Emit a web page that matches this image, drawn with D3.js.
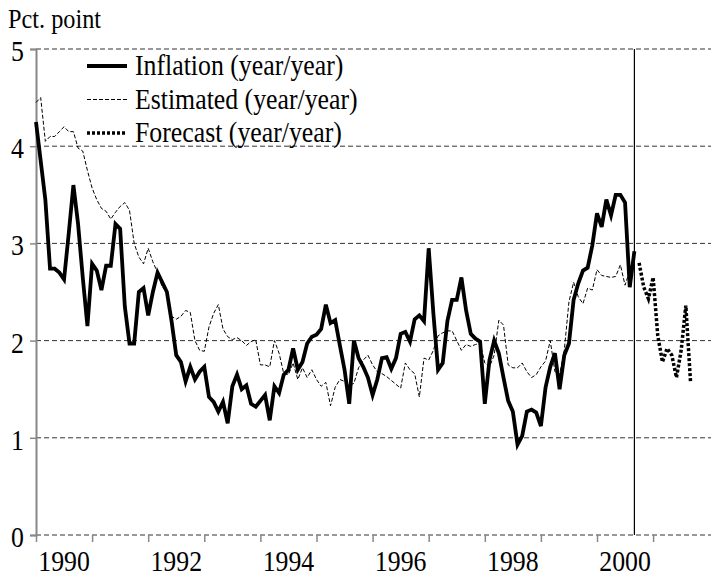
<!DOCTYPE html>
<html>
<head>
<meta charset="utf-8">
<script src="https://cdn.jsdelivr.net/npm/d3@7"></script>
<style>
  html, body { margin: 0; padding: 0; background: #fff; }
  svg { display: block; }
  svg text { font-family: "Liberation Serif", Tinos, "Noto Serif", "DejaVu Serif", FreeSerif, serif; }
</style>
</head>
<body>
<svg id="chart" width="711" height="576"></svg>
<script>
// ---- data (monthly, starting January 1990) ----
const startYear = 1990;
const inflation = [
  4.25, 3.85, 3.45, 2.74, 2.74, 2.70, 2.63, 3.10, 3.60, 3.20, 2.65, 2.15,
  2.79, 2.72, 2.52, 2.77, 2.77, 3.20, 3.15, 2.35, 1.97, 1.97, 2.50, 2.54,
  2.26, 2.50, 2.70, 2.60, 2.50, 2.20, 1.85, 1.78, 1.58, 1.73, 1.60, 1.68,
  1.73, 1.42, 1.37, 1.27, 1.37, 1.15, 1.53, 1.65, 1.50, 1.54, 1.35, 1.32,
  1.38, 1.44, 1.18, 1.53, 1.46, 1.65, 1.70, 1.92, 1.70, 1.78, 1.97, 2.04,
  2.06, 2.12, 2.37, 2.18, 2.21, 1.95, 1.70, 1.35, 2.00, 1.82, 1.73, 1.62,
  1.44, 1.60, 1.82, 1.83, 1.71, 1.82, 2.07, 2.09, 1.99, 2.22, 2.26, 2.20,
  2.95, 2.28, 1.70, 1.77, 2.20, 2.42, 2.42, 2.65, 2.31, 2.07, 2.02, 1.99,
  1.35, 1.80, 2.00, 1.87, 1.62, 1.38, 1.27, 0.93, 1.02, 1.27, 1.29, 1.26,
  1.12, 1.52, 1.73, 1.87, 1.50, 1.85, 1.97, 2.42, 2.59, 2.72, 2.75, 2.98,
  3.31, 3.17, 3.45, 3.29, 3.50, 3.50, 3.42, 2.55, 2.92
];
const estimated = [
  4.45, 4.50, 4.05, 4.10, 4.10, 4.15, 4.20, 4.15, 4.15, 3.98, 3.95, 3.75,
  3.57, 3.45, 3.36, 3.33, 3.25, 3.32, 3.38, 3.42, 3.34, 3.00, 2.86, 2.79,
  2.95, 2.81, 2.70, 2.55, 2.50, 2.25, 2.22, 2.25, 2.31, 2.29, 2.00, 1.90,
  1.89, 2.14, 2.28, 2.37, 2.12, 2.04, 2.01, 2.03, 2.00, 1.95, 1.99, 2.01,
  1.75, 1.75, 1.73, 2.00, 1.87, 1.66, 1.65, 1.77, 1.60, 1.72, 1.62, 1.70,
  1.60, 1.53, 1.57, 1.33, 1.52, 1.60, 1.58, 1.54, 1.56, 1.72, 1.80, 1.85,
  1.75, 1.68, 1.66, 1.63, 1.59, 1.55, 1.51, 1.77, 1.70, 1.66, 1.42, 1.82,
  1.80, 1.90, 2.05, 2.08, 2.10, 2.10, 2.00, 1.90, 1.96, 1.94, 1.96, 1.97,
  1.77, 1.73, 1.85, 2.21, 2.16, 1.75, 1.72, 1.72, 1.77, 1.68, 1.62, 1.65,
  1.73, 1.79, 2.00, 1.68, 1.65, 1.90, 2.40, 2.60, 2.45, 2.38, 2.54, 2.52,
  2.73, 2.67, 2.66, 2.65, 2.66, 2.78, 2.57, 2.72
];
const forecastStartMonth = 129; // October 2000
const forecast = [2.80, 2.55, 2.43, 2.65, 2.05, 1.78, 1.92, 1.85, 1.62, 1.90, 2.36, 1.58];
const splitMonth = 128.0;       // vertical line: last observed month
const yTicks = [0, 1, 2, 3, 4, 5];
const yearTicks = d3.range(1990, 2002);
const xLabels = ["1990", "1992", "1994", "1996", "1998", "2000"];
const legendLabels = ["Inflation (year/year)", "Estimated (year/year)", "Forecast (year/year)"];
const yTitle = "Pct. point";

// ---- layout ----
const svg = d3.select("#chart");
const mLeft = 36, mRight = 709.2, mTop = 49, mBottom = 535;
const x = d3.scaleLinear().domain([1990, 2002]).range([mLeft, mRight]);
const y = d3.scaleLinear().domain([0, 5]).range([mBottom, mTop]);
const t = i => startYear + i / 12;
const SX = 0.86; // condensed look

// gridlines
svg.append("g").selectAll("line").data(yTicks).join("line")
  .attr("x1", mLeft).attr("x2", 711)
  .attr("y1", d => y(d)).attr("y2", d => y(d))
  .attr("stroke", "#333").attr("stroke-width", 1)
  .attr("stroke-dasharray", "5,3");

// y axis
const yAxis = svg.append("g").attr("transform", `translate(${mLeft},0)`)
  .call(d3.axisLeft(y).tickValues(yTicks).tickSize(6).tickFormat(""));
yAxis.select(".domain").attr("stroke", "#888").attr("stroke-width", 2);
yAxis.selectAll(".tick line").attr("stroke", "#888").attr("stroke-width", 1.5);

svg.append("g").selectAll("text").data(yTicks).join("text")
  .attr("transform", d => `translate(24,${y(d) + 12}) scale(${SX},1)`)
  .attr("text-anchor", "end")
  .attr("font-size", 30)
  .text(d => d);

// x axis ticks (year boundaries)
const xAxis = svg.append("g").attr("transform", `translate(0,${mBottom})`)
  .call(d3.axisBottom(x).tickValues(yearTicks).tickSize(7).tickFormat(""));
xAxis.select(".domain").remove();
xAxis.selectAll(".tick line").attr("stroke", "#888").attr("stroke-width", 1.5);

svg.append("g").selectAll("text").data(xLabels).join("text")
  .attr("transform", d => `translate(${x(+d + 0.5)},571) scale(${SX},1)`)
  .attr("text-anchor", "middle")
  .attr("font-size", 30)
  .text(d => d);

// y title
svg.append("text")
  .attr("transform", `translate(8,28) scale(0.9,1)`)
  .attr("font-size", 27)
  .text(yTitle);

// vertical split line
svg.append("line")
  .attr("x1", x(t(splitMonth))).attr("x2", x(t(splitMonth)))
  .attr("y1", y(5)).attr("y2", y(0))
  .attr("stroke", "#000").attr("stroke-width", 1.2);

// series
const line = d3.line().x(d => x(d.t)).y(d => y(d.v));
const estData = estimated.map((v, i) => ({ t: t(i), v }));
const infData = inflation.map((v, i) => ({ t: t(i), v }));
const fcData = forecast.map((v, i) => ({ t: t(forecastStartMonth + i), v }));

svg.append("path").datum(estData).attr("d", line)
  .attr("fill", "none").attr("stroke", "#000").attr("stroke-width", 1)
  .attr("stroke-dasharray", "4,2");
svg.append("path").datum(infData).attr("d", line)
  .attr("fill", "none").attr("stroke", "#000").attr("stroke-width", 3.8)
  .attr("stroke-linejoin", "miter");
svg.append("path").datum(fcData).attr("d", line)
  .attr("fill", "none").attr("stroke", "#000").attr("stroke-width", 3.5)
  .attr("stroke-dasharray", "3,2");

// legend
const styles = [
  { w: 3.8, dash: null },
  { w: 1, dash: "4,2" },
  { w: 3.5, dash: "3,2" }
];
const lg = svg.append("g");
legendLabels.forEach((lab, i) => {
  const yy = 66 + i * 33.5;
  const l = lg.append("line").attr("x1", 87).attr("x2", 127)
    .attr("y1", yy).attr("y2", yy)
    .attr("stroke", "#000").attr("stroke-width", styles[i].w);
  if (styles[i].dash) l.attr("stroke-dasharray", styles[i].dash);
  lg.append("text")
    .attr("transform", `translate(135,${yy + 9}) scale(${SX},1)`)
    .attr("font-size", 30)
    .text(lab);
});
</script>
</body>
</html>
